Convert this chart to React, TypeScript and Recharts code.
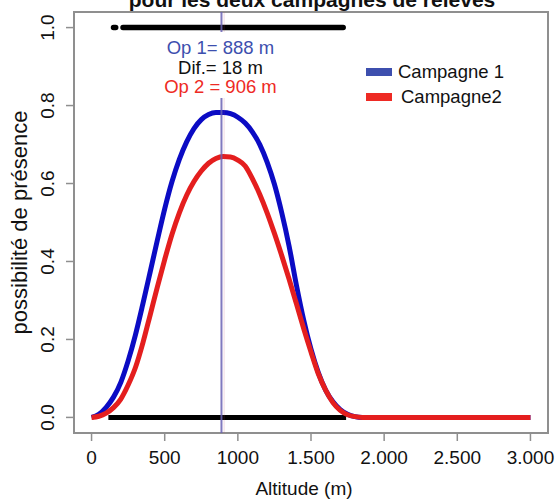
import React from 'react';
import { LineChart, Line, XAxis, YAxis, ReferenceLine, ReferenceArea, Legend } from 'recharts';

// altitude (m) sampled along the curves
const altitudes = [
  0, 50, 100, 150, 200, 250, 300, 350, 400, 450, 500, 550, 600, 650, 700, 750, 800, 850, 900,
  950, 1000, 1050, 1100, 1150, 1200, 1250, 1300, 1350, 1400, 1450, 1500, 1550, 1600, 1650,
  1700, 1750, 1800, 1850, 1900, 2000, 2100, 2200, 2300, 2400, 2500, 2600, 2700, 2800, 2900, 3000,
];

// possibilité de présence, campagne 1
const campagne1 = [
  0, 0.008, 0.026, 0.052, 0.09, 0.145, 0.212, 0.29, 0.372, 0.455, 0.535, 0.605, 0.662, 0.707,
  0.741, 0.764, 0.777, 0.782, 0.782, 0.779, 0.77, 0.755, 0.732, 0.7, 0.655, 0.598, 0.525, 0.44,
  0.34, 0.25, 0.175, 0.115, 0.07, 0.04, 0.02, 0.008, 0.002, 0, 0, 0, 0, 0, 0, 0, 0, 0, 0, 0, 0, 0,
];

// possibilité de présence, campagne 2
const campagne2 = [
  0, 0.003, 0.011, 0.025, 0.047, 0.083, 0.128, 0.19, 0.262, 0.335, 0.405, 0.47, 0.525, 0.57,
  0.605, 0.632, 0.652, 0.664, 0.669, 0.668, 0.66, 0.645, 0.612, 0.572, 0.525, 0.472, 0.415,
  0.355, 0.292, 0.228, 0.168, 0.112, 0.07, 0.038, 0.018, 0.007, 0.002, 0, 0, 0, 0, 0, 0, 0, 0,
  0, 0, 0, 0, 0,
];

// relevés (présence at 1, absence at 0), as altitude ranges
const presenceRanges = [[150, 165], [215, 1720]];
const absenceRanges = [[115, 1740]];

const optimum1 = 888;
const optimum2 = 906;

const xTicks = [0, 500, 1000, 1500, 2000, 2500, 3000];
const xTickLabels = ['0', '500', '1000', '1.500', '2.000', '2.500', '3.000'];
const yTicks = [0, 0.2, 0.4, 0.6, 0.8, 1.0];
const yTickLabels = ['0.0', '0.2', '0.4', '0.6', '0.8', '1.0'];

const seriesNames = ['Campagne 1', 'Campagne2'];
const lineColors = ['#0b0bc4', '#e41e1e'];
const legendColors = ['#3d4fae', '#ee2a24'];

const curveData = altitudes.map((alt, i) => ({ alt, c1: campagne1[i], c2: campagne2[i] }));

const rugData = (ranges: number[][], level: number) => {
  const out: { alt: number; v: number | null }[] = [];
  ranges.forEach(([a, b], i) => {
    if (i > 0) out.push({ alt: (ranges[i - 1][1] + a) / 2, v: null });
    out.push({ alt: a, v: level }, { alt: b, v: level });
  });
  return out;
};

const AXIS_GREY = '#8f8f8f';
const FONT = '"Liberation Sans", Arial, sans-serif';

const XTick = (props: any) => {
  const { x, y, payload } = props;
  const idx = xTicks.indexOf(payload.value);
  return (
    <text x={x} y={y + 21} textAnchor="middle" fontSize={19} fill="#111" fontFamily={FONT}>
      {xTickLabels[idx]}
    </text>
  );
};

const YTick = (props: any) => {
  const { x, y, payload } = props;
  const idx = yTicks.findIndex((t) => Math.abs(t - payload.value) < 1e-9);
  const cx = x - 16;
  return (
    <text
      x={cx}
      y={y}
      transform={`rotate(-90, ${cx}, ${y})`}
      textAnchor="middle"
      dominantBaseline="central"
      fontSize={19}
      fill="#111"
      fontFamily={FONT}
    >
      {yTickLabels[idx]}
    </text>
  );
};

const XTitle = (props: any) => {
  const { viewBox } = props;
  if (!viewBox) return null;
  return (
    <text
      x={viewBox.x + viewBox.width / 2 - 7}
      y={viewBox.y + viewBox.height - 6}
      textAnchor="middle"
      fontSize={19}
      fill="#111"
      fontFamily={FONT}
    >
      Altitude (m)
    </text>
  );
};

const YTitle = (props: any) => {
  const { viewBox } = props;
  if (!viewBox) return null;
  const cx = 19;
  const cy = viewBox.y + viewBox.height / 2;
  return (
    <text
      x={cx}
      y={cy}
      transform={`rotate(-90, ${cx}, ${cy})`}
      textAnchor="middle"
      dominantBaseline="central"
      fontSize={22}
      fill="#111"
      fontFamily={FONT}
    >
      possibilité de présence
    </text>
  );
};

const OptLabel = (props: any) => {
  const { viewBox } = props;
  if (!viewBox) return null;
  const cx = viewBox.x - 1;
  const top = Math.min(viewBox.y, viewBox.y + (viewBox.height || 0));
  return (
    <g fontFamily={FONT} fontSize={18.5} textAnchor="middle">
      <rect x={cx - 62} y={top + 20} width={124} height={66} fill="#fff" />
      <text x={cx} y={top + 35} dominantBaseline="central" fill="#3d4fae">
        {`Op 1= ${optimum1} m`}
      </text>
      <text x={cx} y={top + 55} dominantBaseline="central" fill="#111">
        {`Dif.= ${optimum2 - optimum1} m`}
      </text>
      <text x={cx} y={top + 74} dominantBaseline="central" fill="#ee2a24">
        {`Op 2 = ${optimum2} m`}
      </text>
    </g>
  );
};

const LegendBox = () => (
  <div style={{ fontFamily: FONT, fontSize: 18.5, color: '#111' }}>
    {seriesNames.map((name, i) => (
      <div key={name} style={{ display: 'flex', alignItems: 'center', height: 25 }}>
        <span
          style={{ display: 'inline-block', width: 26, height: 8, background: legendColors[i], marginRight: i === 0 ? 6 : 9 }}
        />
        <span>{name}</span>
      </div>
    ))}
  </div>
);

export default function App() {
  return (
    <div style={{ position: 'absolute', left: 0, top: 0, width: 558, height: 501, background: '#fff', overflow: 'hidden', fontFamily: FONT }}>
      <div
        style={{
          position: 'absolute',
          left: 0,
          width: 624,
          top: -11,
          textAlign: 'center',
          fontWeight: 'bold',
          fontSize: 21,
          lineHeight: '21px',
          color: '#111',
        }}
      >
        pour les deux campagnes de relevés
      </div>
      <LineChart width={558} height={501} margin={{ top: 12, right: 10, bottom: 0, left: 0 }}>
        <XAxis
          type="number"
          dataKey="alt"
          domain={[-120, 3120]}
          ticks={xTicks}
          allowDataOverflow
          axisLine={false}
          tickLine={{ stroke: AXIS_GREY, strokeWidth: 1.5 }}
          tickSize={8}
          tickMargin={2}
          height={68}
          tick={<XTick />}
          label={<XTitle />}
        />
        <YAxis
          type="number"
          domain={[-0.04, 1.04]}
          ticks={yTicks}
          allowDataOverflow
          axisLine={false}
          tickLine={{ stroke: AXIS_GREY, strokeWidth: 1.5 }}
          tickSize={8}
          tickMargin={2}
          width={74}
          tick={<YTick />}
          label={<YTitle />}
        />
        <ReferenceArea x1={-120} x2={3120} y1={-0.04} y2={1.04} fill="none" stroke={AXIS_GREY} strokeWidth={2} />
        <Legend
          layout="vertical"
          align="center"
          verticalAlign="middle"
          wrapperStyle={{ left: 366, top: 59, width: 170, height: 50 }}
          content={<LegendBox />}
        />
        <Line
          data={rugData(presenceRanges, 1)}
          dataKey="v"
          stroke="#000"
          strokeWidth={5.5}
          strokeLinecap="round"
          dot={false}
          legendType="none"
          isAnimationActive={false}
        />
        <Line
          data={rugData(absenceRanges, 0)}
          dataKey="v"
          stroke="#000"
          strokeWidth={5}
          dot={false}
          legendType="none"
          isAnimationActive={false}
        />
        <Line
          data={curveData}
          dataKey="c1"
          name={seriesNames[0]}
          type="monotone"
          stroke={lineColors[0]}
          strokeWidth={5}
          dot={false}
          isAnimationActive={false}
        />
        <Line
          data={curveData}
          dataKey="c2"
          name={seriesNames[1]}
          type="monotone"
          stroke={lineColors[1]}
          strokeWidth={5}
          dot={false}
          isAnimationActive={false}
        />
        <ReferenceLine x={optimum2} stroke="#c04a6a" strokeOpacity={0.2} strokeWidth={1} />
        <ReferenceLine x={optimum1} stroke="#6a62b4" strokeOpacity={0.85} strokeWidth={2} label={<OptLabel />} />
      </LineChart>
    </div>
  );
}
